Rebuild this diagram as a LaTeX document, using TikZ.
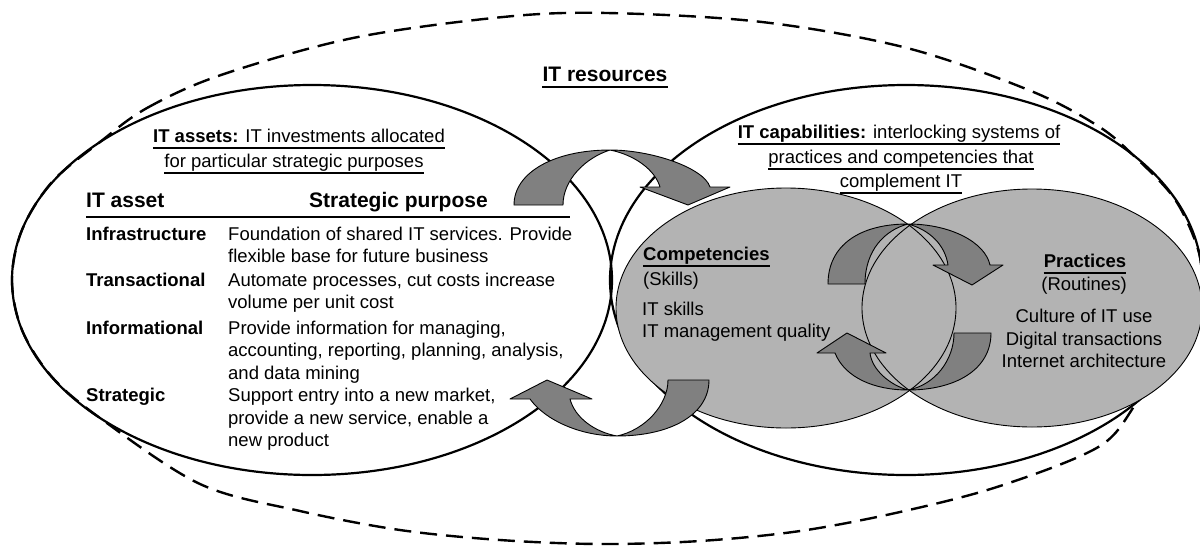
\documentclass[tikz,border=0pt]{standalone}
\usepackage{fontspec}
\setmainfont{Liberation Sans}
\definecolor{bandgray}{RGB}{128,128,128}
\definecolor{poolgray}{RGB}{179,179,179}
\newcommand{\bodyfont}{\fontsize{18.5}{22.5}\selectfont}
\newcommand{\headfont}{\fontsize{21}{25}\selectfont\bfseries}
\newcommand{\underrule}[1]{\draw[uline] ([yshift=-6pt]#1.base west) -- ([yshift=-6pt]#1.base east);}

\begin{document}
\begin{tikzpicture}[x=1pt, y=-1pt,
  txt/.style={inner sep=0pt, anchor=base west, font=\bodyfont},
  ctxt/.style={inner sep=0pt, anchor=base, font=\bodyfont},
  head/.style={inner sep=0pt, font=\headfont},
  uline/.style={line width=1.1pt},
  outerring/.style={line width=2.2pt},
  hull/.style={line width=2.4pt, dash pattern=on 17pt off 9pt},
  pool/.style={fill=poolgray},
  poolline/.style={line width=0.9pt},
  band/.style={fill=bandgray, draw=black, line width=0.9pt, line join=round}]

\useasboundingbox (0,0) rectangle (1200,547);

% the two big rings: IT assets (left) and IT capabilities (right)
\draw[outerring] (312,280) ellipse [x radius=300pt, y radius=195pt];
\draw[outerring] (906,280) ellipse [x radius=296pt, y radius=195pt];

% dashed hull round all IT resources
\draw[hull] plot[smooth cycle, tension=0.55] coordinates {
  (100,142) (147,108) (221,75) (353,38) (503,17) (607,13) (762,22)
  (907,48) (1031,91) (1098,126) (1133,155) (1174,198) (1197,246)
  (1202,280) (1197,314) (1174,362) (1139,400) (1100,446) (1000,486)
  (900,512) (800,531) (700,541) (600,544) (500,540) (400,530)
  (300,511) (200,484) (100,418) (52,377) (22,330) (12,280) (22,230)
  (52,182)};

% competencies and practices
\fill[pool] (786,308) ellipse [x radius=170pt, y radius=120pt];
\fill[pool] (1032,308) ellipse [x radius=170pt, y radius=119pt];
\draw[poolline] (786,308) ellipse [x radius=170pt, y radius=120pt];
\draw[poolline] (1032,308) ellipse [x radius=170pt, y radius=119pt];

% curved arrows
\draw[band] (514,205) .. controls (514,172) and (555,150) .. (610,150)
  .. controls (652,150) and (704,168) .. (710,187)
  -- (730,187) -- (688,205) -- (640,187) -- (660,187)
  .. controls (655,170) and (635,155) .. (610,150)
  .. controls (585,158) and (563,180) .. (563,205) -- cycle;

\draw[band] (709,380) .. controls (709,415) and (670,436) .. (617,436)
  .. controls (580,436) and (545,420) .. (530,399)
  -- (510,399) -- (547,380) -- (592,399) -- (570,399)
  .. controls (575,418) and (595,432) .. (617,436)
  .. controls (645,430) and (668,405) .. (668,380) -- cycle;

\draw[band] (828,284) .. controls (828,245) and (860,224) .. (908,224)
  .. controls (950,224) and (985,242) .. (990,265)
  -- (1003,265) -- (972,285) -- (933,265) -- (948,265)
  .. controls (945,245) and (930,230) .. (908,224)
  .. controls (885,230) and (865,250) .. (865,284) -- cycle;

\draw[band] (991,333) .. controls (991,370) and (955,390) .. (908,390)
  .. controls (875,390) and (845,378) .. (835,353)
  -- (817,353) -- (847,333) -- (886,353) -- (870,353)
  .. controls (872,370) and (890,385) .. (908,390)
  .. controls (935,385) and (954,360) .. (954,333) -- cycle;

% titles
\node[head, anchor=base] (res) at (605,81) {IT resources};
\underrule{res}

\node[ctxt] (ast1) at (299,142) {\textbf{IT assets:} IT investments allocated};
\node[ctxt] (ast2) at (294,167) {for particular strategic purposes};
\underrule{ast1}
\underrule{ast2}

\node[ctxt] (cap1) at (899,138) {\textbf{IT capabilities:} interlocking systems of};
\node[ctxt] (cap2) at (901,163) {practices and competencies that};
\node[ctxt] (cap3) at (901,187) {complement IT};
\underrule{cap1}
\underrule{cap2}
\underrule{cap3}

% table of IT assets
\node[head, anchor=base west] (hA) at (86,207) {IT asset};
\node[head, anchor=base west] (hP) at (309,207) {Strategic purpose};
\coordinate (ruleL) at (86,217);
\coordinate (ruleR) at (570,217);
\draw[uline] (ruleL) -- (ruleR);

\node[txt, font=\bodyfont\bfseries] (rInf) at (86,240) {Infrastructure};
\node[txt] (dInfa) at (228,240) {Foundation of shared IT services. Provide};
\node[txt] (dInfb) at (228,262) {flexible base for future business};

\node[txt, font=\bodyfont\bfseries] (rTra) at (86,286) {Transactional};
\node[txt] (dTraa) at (228,286) {Automate processes, cut costs increase};
\node[txt] (dTrab) at (228,308) {volume per unit cost};

\node[txt, font=\bodyfont\bfseries] (rInfo) at (86,334) {Informational};
\node[txt] (dInfoa) at (228,334) {Provide information for managing,};
\node[txt] (dInfob) at (228,356) {accounting, reporting, planning, analysis,};
\node[txt] (dInfoc) at (228,379) {and data mining};

\node[txt, font=\bodyfont\bfseries] (rStr) at (86,401) {Strategic};
\node[txt] (dStra) at (228,401) {Support entry into a new market,};
\node[txt] (dStrb) at (228,424) {provide a new service, enable a};
\node[txt] (dStrc) at (228,446) {new product};

% competencies
\node[txt, font=\bodyfont\bfseries] (comp) at (643,260) {Competencies};
\underrule{comp}
\node[txt] (skl) at (643,285) {(Skills)};
\node[txt] (sk1) at (642,315) {IT skills};
\node[txt] (sk2) at (642,337) {IT management quality};

% practices
\node[ctxt, font=\bodyfont\bfseries] (prac) at (1085,267) {Practices};
\underrule{prac}
\node[ctxt] (rtn) at (1084,290) {(Routines)};
\node[ctxt] (pr1) at (1084,322) {Culture of IT use};
\node[ctxt] (pr2) at (1084,345) {Digital transactions};
\node[ctxt] (pr3) at (1084,367) {Internet architecture};
\end{tikzpicture}
\end{document}
